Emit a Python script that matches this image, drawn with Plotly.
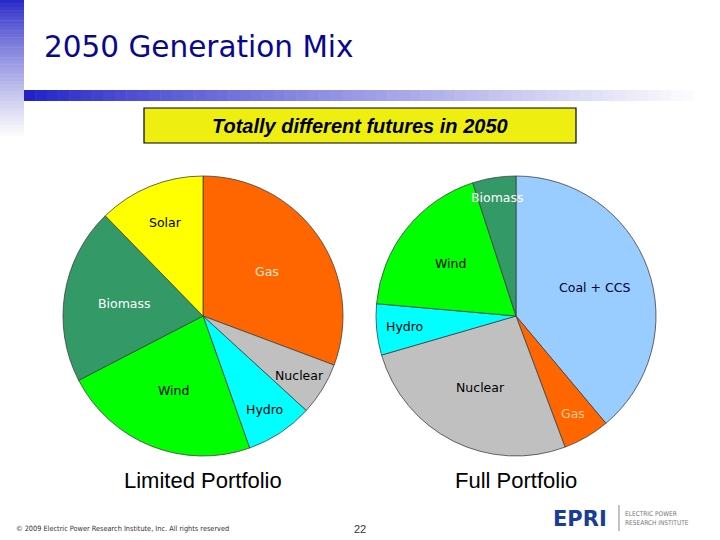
import math
import plotly.graph_objects as go

# ---------------- data ----------------
limited_labels = ["Gas", "Nuclear", "Hydro", "Wind", "Biomass", "Solar"]
limited_values = [30.7, 6.1, 7.8, 22.8, 20.3, 12.3]

full_labels = ["Coal + CCS", "Gas", "Nuclear", "Hydro", "Wind", "Biomass"]
full_values = [38.9, 5.4, 26.2, 5.9, 18.6, 5.0]

pie_titles = ["Limited Portfolio", "Full Portfolio"]
slide_title = "2050 Generation Mix"
subtitle = "Totally different futures in 2050"
footer_text = "© 2009 Electric Power Research Institute, Inc. All rights reserved"
page_number = "22"

# ---------------- styles ----------------
W, H = 720, 540
slice_colors = {
    "Gas": "#FF6600",
    "Nuclear": "#C0C0C0",
    "Hydro": "#00FFFF",
    "Wind": "#00FF00",
    "Biomass": "#339966",
    "Solar": "#FFFF00",
    "Coal + CCS": "#99CCFF",
}
label_font_colors = {
    "Gas": "#FFE6CC",
    "Biomass": "#FFFFFF",
    "Coal + CCS": "#000033",
}
# radial position of each label (fraction of radius), per pie
limited_label_r = [0.56, 0.81, 0.80, 0.57, 0.57, 0.72]
full_label_r = [0.60, 0.81, 0.57, 0.80, 0.60, 0.86]

pie_centers = [(203, 316), (516, 316)]
pie_radius = 140


def px(x):
    return x / W


def py(y):
    return 1 - y / H


fig = go.Figure()
annotations = []
shapes = []

pies = [
    (limited_labels, limited_values, limited_label_r),
    (full_labels, full_values, full_label_r),
]
for idx, (labels, values, label_r) in enumerate(pies):
    cx, cy = pie_centers[idx]
    fig.add_trace(go.Pie(
        labels=labels,
        values=values,
        sort=False,
        direction="clockwise",
        rotation=0,
        textinfo="none",
        hoverinfo="label+percent",
        showlegend=False,
        marker=dict(colors=[slice_colors[l] for l in labels],
                    line=dict(color="#404040", width=0.8)),
        domain=dict(x=[px(cx - pie_radius), px(cx + pie_radius)],
                    y=[py(cy + pie_radius), py(cy - pie_radius)]),
    ))
    total = sum(values)
    cum = 0.0
    for lab, v, fr in zip(labels, values, label_r):
        mid = (cum + v / 2) / total * 2 * math.pi
        cum += v
        lx = cx + pie_radius * fr * math.sin(mid)
        ly = cy - pie_radius * fr * math.cos(mid)
        col = label_font_colors.get(lab, "#000000")
        if idx == 1 and lab == "Gas":
            col = "#FFCC99"
        annotations.append(dict(
            x=px(lx), y=py(ly), xref="paper", yref="paper",
            text=lab, showarrow=False,
            font=dict(family="DejaVu Sans", size=12.5, color=col),
            xanchor="center", yanchor="middle",
        ))
    annotations.append(dict(
        x=px(cx), y=py(480), xref="paper", yref="paper",
        text=pie_titles[idx], showarrow=False,
        font=dict(family="Liberation Sans, Arial", size=22, color="#000000"),
        xanchor="center", yanchor="middle",
    ))

# ---------------- decorative gradient bars ----------------
n = 60
x0, x1 = 24, 705
for i in range(n):
    t = i / (n - 1)
    r = int(34 + (255 - 34) * t ** 0.85)
    g = int(34 + (255 - 34) * t ** 0.85)
    b = int(200 + (255 - 200) * t ** 0.85)
    xa = x0 + (x1 - x0) * i / n
    xb = x0 + (x1 - x0) * (i + 1) / n + 0.5
    shapes.append(dict(type="rect", xref="paper", yref="paper",
                       x0=px(xa), x1=px(xb), y0=py(101), y1=py(90),
                       fillcolor=f"rgb({r},{g},{b})", line=dict(width=0),
                       layer="below"))
m = 40
y0, y1 = 0, 135
for i in range(m):
    t = i / (m - 1)
    r = int(40 + (250 - 40) * t ** 0.8)
    g = int(40 + (250 - 40) * t ** 0.8)
    b = int(200 + (252 - 200) * t ** 0.8)
    ya = y0 + (y1 - y0) * i / m
    yb = y0 + (y1 - y0) * (i + 1) / m + 0.5
    shapes.append(dict(type="rect", xref="paper", yref="paper",
                       x0=px(0), x1=px(24), y0=py(yb), y1=py(ya),
                       fillcolor=f"rgb({r},{g},{b})", line=dict(width=0),
                       layer="below"))

# subtitle box
shapes.append(dict(type="rect", xref="paper", yref="paper",
                   x0=px(144), x1=px(576), y0=py(143), y1=py(108),
                   fillcolor="#EEEE11", line=dict(color="#000000", width=1.2)))
annotations.append(dict(
    x=px(360), y=py(126), xref="paper", yref="paper", text=f"<b><i>{subtitle}</i></b>",
    showarrow=False, font=dict(family="Liberation Sans, Arial", size=20, color="#000000"),
    xanchor="center", yanchor="middle"))

# title
annotations.append(dict(
    x=px(42), y=py(47), xref="paper", yref="paper", text=slide_title,
    showarrow=False, font=dict(family="DejaVu Sans", size=29.5, color="#08088F"),
    xanchor="left", yanchor="middle"))

# footer
annotations.append(dict(
    x=px(14), y=py(528), xref="paper", yref="paper", text=footer_text,
    showarrow=False, font=dict(family="DejaVu Sans Condensed", size=7.3, color="#333333"),
    xanchor="left", yanchor="middle"))
annotations.append(dict(
    x=px(360), y=py(529), xref="paper", yref="paper", text=page_number,
    showarrow=False, font=dict(family="Liberation Sans, Arial", size=11, color="#333333"),
    xanchor="center", yanchor="middle"))

# EPRI logo
annotations.append(dict(
    x=px(580), y=py(519), xref="paper", yref="paper", text="<b>EPRI</b>",
    showarrow=False, font=dict(family="DejaVu Sans", size=21, color="#1A3C96"),
    xanchor="center", yanchor="middle"))
shapes.append(dict(type="line", xref="paper", yref="paper",
                   x0=px(619), x1=px(619), y0=py(531), y1=py(505),
                   line=dict(color="#888888", width=1)))
annotations.append(dict(
    x=px(623), y=py(514), xref="paper", yref="paper", text="ELECTRIC POWER",
    showarrow=False, font=dict(family="DejaVu Sans Condensed", size=6.5, color="#777777"),
    xanchor="left", yanchor="middle"))
annotations.append(dict(
    x=px(623), y=py(523), xref="paper", yref="paper", text="RESEARCH INSTITUTE",
    showarrow=False, font=dict(family="DejaVu Sans Condensed", size=6.5, color="#777777"),
    xanchor="left", yanchor="middle"))

fig.update_layout(
    width=W, height=H,
    margin=dict(l=0, r=0, t=0, b=0),
    paper_bgcolor="#FFFFFF",
    plot_bgcolor="#FFFFFF",
    shapes=shapes,
    annotations=annotations,
)

fig.write_html(
    "out.html",
    config={"displayModeBar": False},
    post_script="document.body.style.margin='0px';document.body.style.padding='0px';",
)
